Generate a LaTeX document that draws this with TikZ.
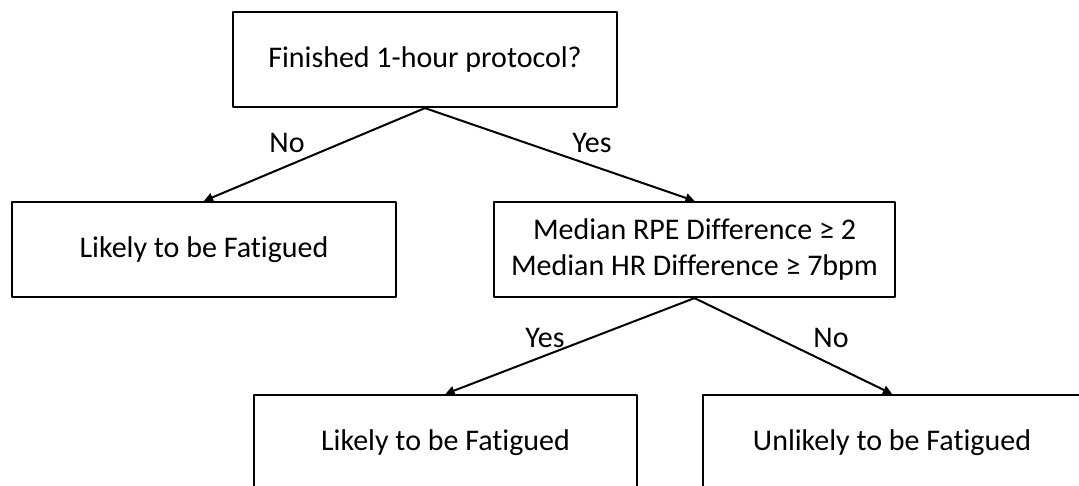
\documentclass[tikz,border=0pt]{standalone}
\usepackage{fontspec}
\setmainfont{Carlito}[Ligatures={NoCommon}]
\usepackage{tikz}
\usetikzlibrary{arrows.meta,positioning}
\tikzset{
  DecBox/.style={
    draw=black, line width=2.2pt,
    minimum height=95pt, inner sep=0pt,
    align=center, font=\fontsize{30}{36}\selectfont
  },
  Branch/.style={
    draw=black, line width=2pt,
    -{Triangle[length=9pt,width=9pt]}
  },
  BranchLbl/.style={font=\fontsize{30}{36}\selectfont, inner sep=0pt}
}

\begin{document}
\begin{tikzpicture}[x=1pt, y=-1pt, line cap=round, line join=round]
  \clip (0,0) rectangle (1079,485);

  \node[DecBox, minimum width=384pt] (start) at (425,59.5) {Finished 1-hour protocol?};
  \node[DecBox, minimum width=384pt] (fatA) at (204,249.5) {Likely to be Fatigued};
  \node[DecBox, minimum width=401pt] (median) at (694.5,249.5)
    {Median RPE Difference ≥ 2\\Median HR Difference ≥ 7bpm};
  \node[DecBox, minimum width=383pt] (fatB) at (445.5,442.5) {Likely to be Fatigued};
  \node[DecBox, minimum width=378pt] (nofat) at (892,442.5) {Unlikely to be Fatigued};

  \draw[Branch] (start.south) -- (fatA.north);
  \draw[Branch] (start.south) -- (median.north);
  \draw[Branch] (median.south) -- (fatB.north);
  \draw[Branch] (median.south) -- (nofat.north);

  % branch labels
  \node[BranchLbl] (noA) at (287,143) {No};
  \node[BranchLbl] (yesA) at (592,143) {Yes};
  \node[BranchLbl] (yesB) at (545,338) {Yes};
  \node[BranchLbl] (noB) at (831,338) {No};
\end{tikzpicture}
\end{document}
